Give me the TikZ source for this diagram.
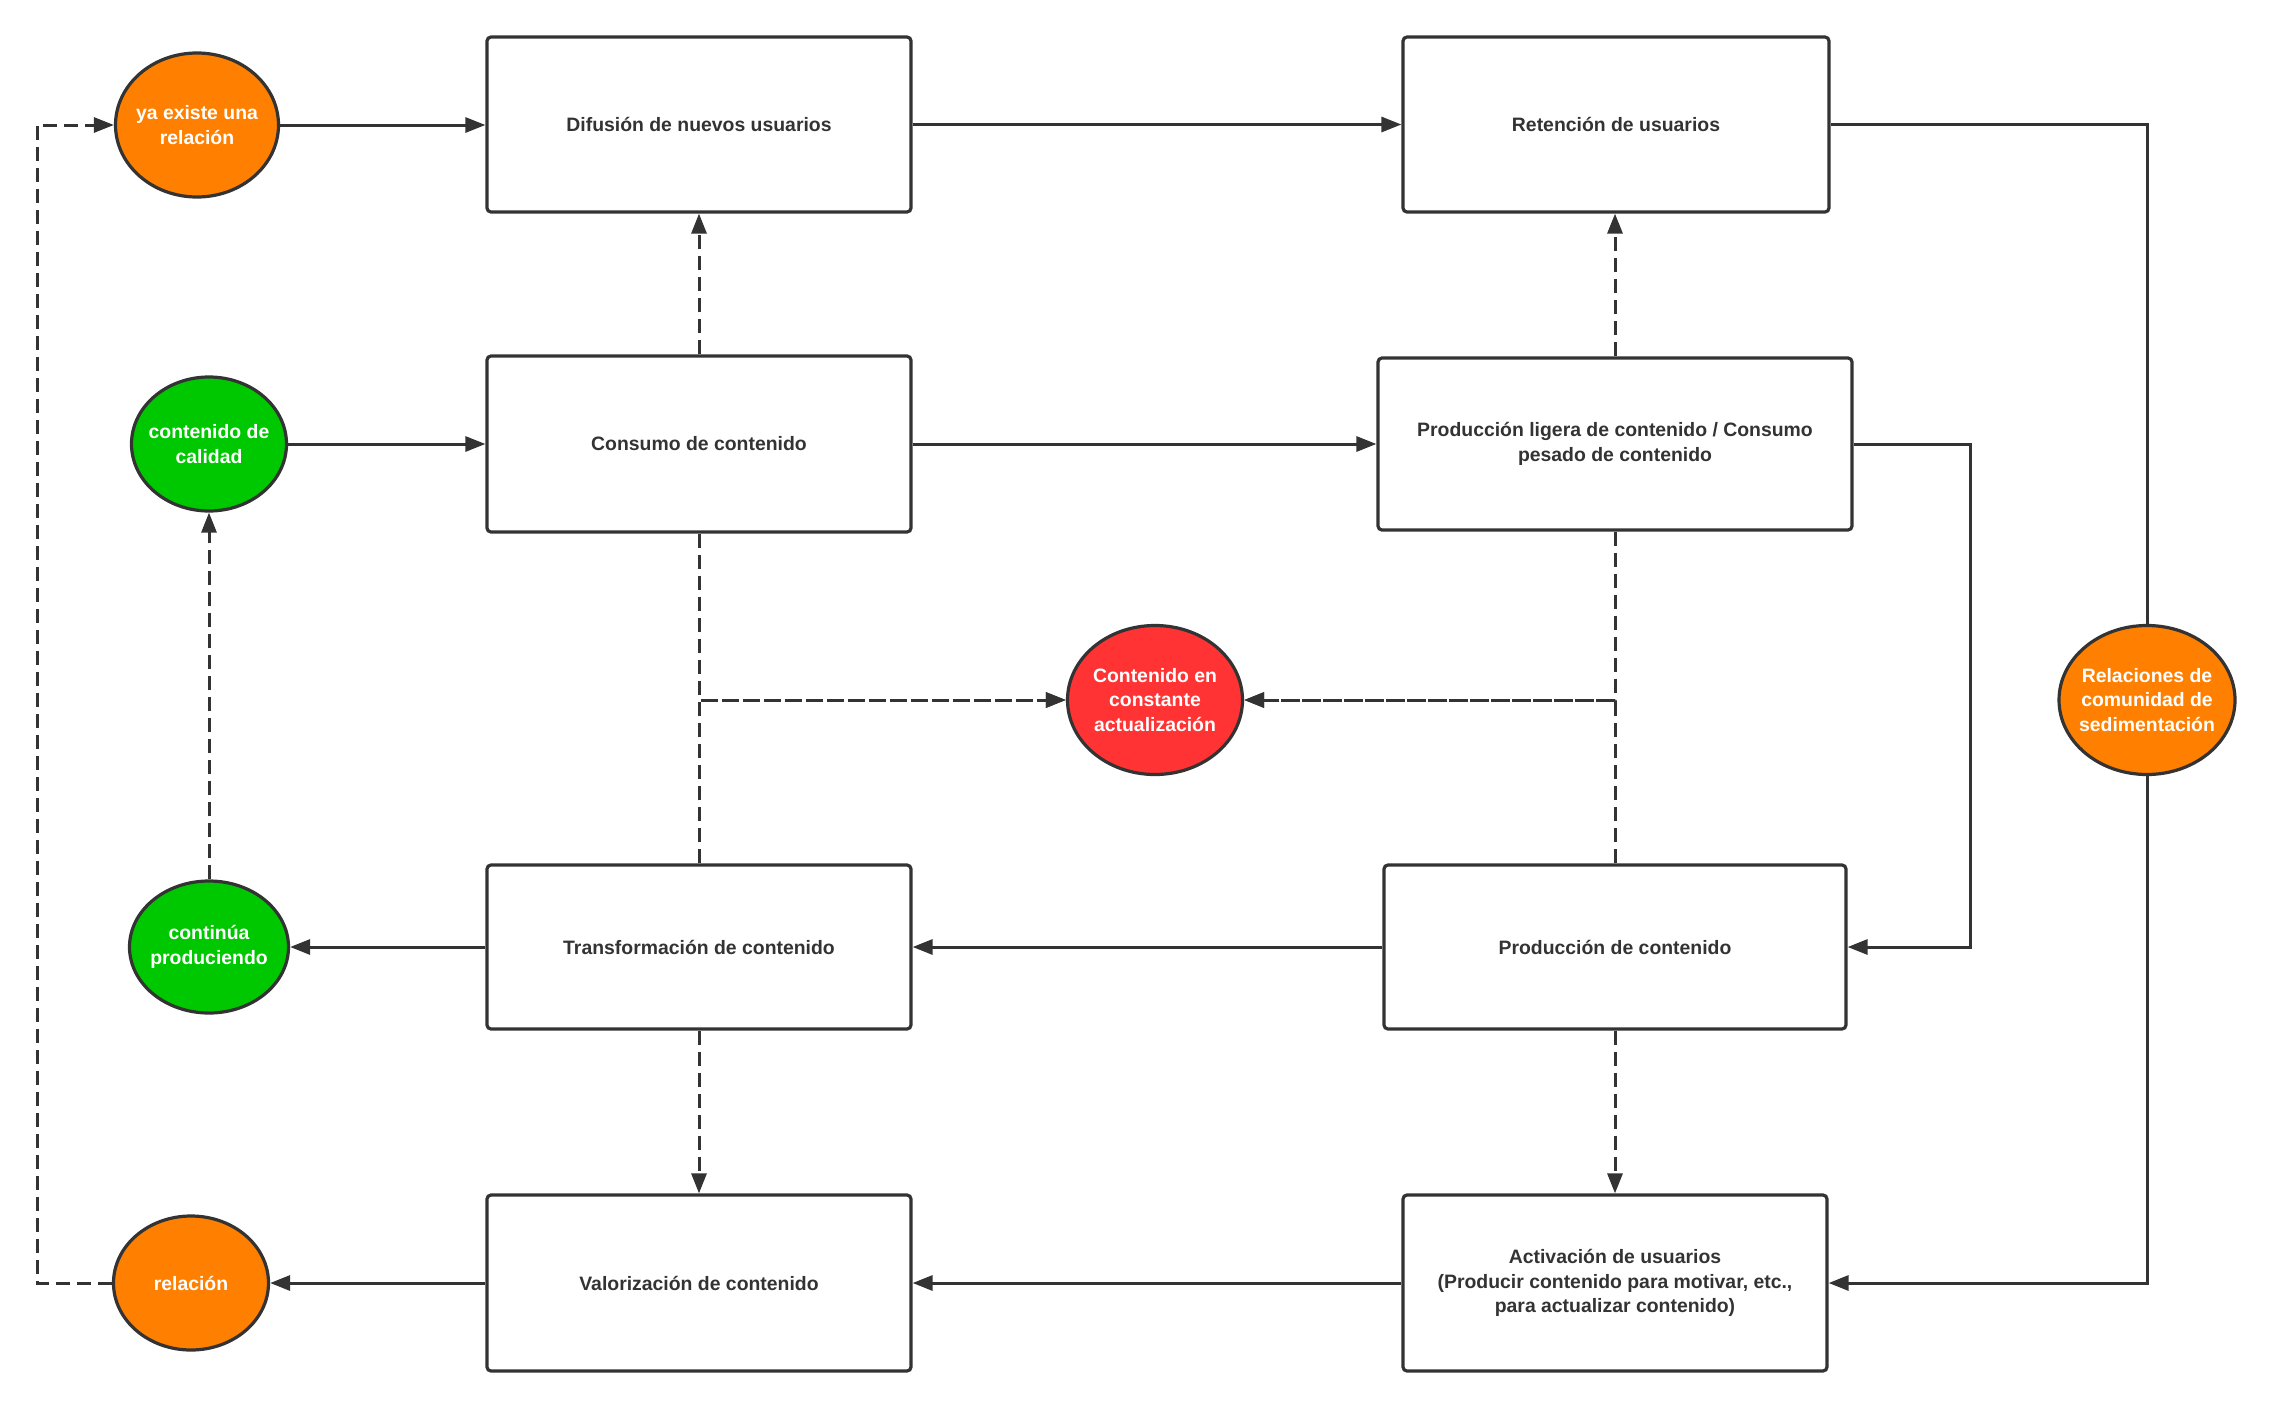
\documentclass[tikz,border=0pt]{standalone}
\usepackage{fontspec}
\setmainfont{Liberation Sans}
\usetikzlibrary{shapes.geometric,arrows.meta}
\definecolor{edge}{HTML}{333333}
\definecolor{corange}{HTML}{FF8000}
\definecolor{cgreen}{HTML}{00C800}
\definecolor{cred}{HTML}{FF3333}
\begin{document}
\begin{tikzpicture}[x=1pt,y=-1pt,
  every node/.style={font=\fontsize{19.4}{24.6}\selectfont\bfseries},
  box/.style={draw=edge,line width=3.2pt,rounded corners=4pt,fill=white,align=center,text=edge,inner sep=0pt},
  oval/.style={ellipse,draw=edge,line width=3.2pt,inner sep=0pt},
  ovaltext/.style={align=center,text=white,inner sep=0pt},
  conn/.style={draw=edge,line width=3pt,-{Triangle[length=20pt,width=15pt]}},
  plain/.style={draw=edge,line width=3pt},
  dsh/.style={dash pattern=on 14pt off 7pt}]
\useasboundingbox (0,0) rectangle (2272,1408);
% boxes
\node[box,minimum width=424pt,minimum height=175pt] (dif) at (699,124.5) {Difusión de nuevos usuarios};
\node[box,minimum width=426pt,minimum height=175pt] (ret) at (1616,124.5) {Retención de usuarios};
\node[box,minimum width=424pt,minimum height=176pt] (con) at (699,444) {Consumo de contenido};
\node[box,minimum width=474pt,minimum height=172pt] (lig) at (1615,444) {Producción ligera de contenido / Consumo\\pesado de contenido};
\node[box,minimum width=424pt,minimum height=164pt] (tra) at (699,947) {Transformación de contenido};
\node[box,minimum width=462pt,minimum height=164pt] (pro) at (1615,947) {Producción de contenido};
\node[box,minimum width=424pt,minimum height=176pt] (val) at (699,1283) {Valorización de contenido};
\node[box,minimum width=424pt,minimum height=176pt] (actv) at (1615,1283) {Activación de usuarios\\(Producir contenido para motivar, etc.,\\para actualizar contenido)};
% ovals
\node[oval,fill=corange,minimum width=163pt,minimum height=144pt] (ya) at (197,125) {};
\node[ovaltext] (yat) at (ya) {ya existe una\\relación};
\node[oval,fill=cgreen,minimum width=155pt,minimum height=134pt] (cal) at (209,444) {};
\node[ovaltext] (calt) at (cal) {contenido de\\calidad};
\node[oval,fill=cgreen,minimum width=159pt,minimum height=132pt] (cnt) at (209,947) {};
\node[ovaltext] (cntt) at (cnt) {continúa\\produciendo};
\node[oval,fill=corange,minimum width=155pt,minimum height=134pt] (rel) at (191,1283) {};
\node[ovaltext] (relt) at (rel) {relación};
\node[oval,fill=cred,minimum width=175pt,minimum height=149pt] (upd) at (1155,700) {};
\node[ovaltext] (updt) at (upd) {Contenido en\\constante\\actualización};
\node[oval,fill=corange,minimum width=176pt,minimum height=149pt] (sed) at (2147,700) {};
\node[ovaltext] (sedt) at (sed) {Relaciones de\\comunidad de\\sedimentación};
% corner coordinates
\coordinate (lx) at (37,0);
\coordinate (rx1) at (1970,0);
\coordinate (rx2) at (2147,0);
% solid connectors
\draw[conn] (ya.east) -- (ya.east -| dif.west);
\draw[conn] (dif.east) -- (dif.east -| ret.west);
\draw[conn] (cal.east) -- (cal.east -| con.west);
\draw[conn] (con.east) -- (con.east -| lig.west);
\draw[conn] (pro.west) -- (pro.west -| tra.east);
\draw[conn] (tra.west) -- (tra.west -| cnt.east);
\draw[conn] (actv.west) -- (actv.west -| val.east);
\draw[conn] (val.west) -- (val.west -| rel.east);
\draw[conn] (lig.east) -- (lig.east -| rx1) -- (pro.east -| rx1) -- (pro.east);
\draw[plain] (ret.east) -- (ret.east -| rx2) -- (sed.north);
\draw[conn] (sed.south) -- (actv.east -| rx2) -- (actv.east);
% dashed connectors
\draw[conn,dsh] (con.north) -- (dif.south);
\draw[conn,dsh] (lig.north) -- (lig.north |- ret.south);
\draw[conn,dsh] (cnt.north) -- (cal.south);
\draw[conn,dsh] (tra.south) -- (val.north);
\draw[conn,dsh] (pro.south) -- (pro.south |- actv.north);
\draw[conn,dsh] (rel.west) -- (rel.west -| lx) -- (ya.west -| lx) -- (ya.west);
\draw[conn,dsh] (con.south) |- (upd.west);
\draw[conn,dsh] (tra.north) |- (upd.west);
\draw[conn,dsh] (lig.south -| pro.north) |- (upd.east);
\draw[conn,dsh] (pro.north) |- (upd.east);
\end{tikzpicture}
\end{document}
